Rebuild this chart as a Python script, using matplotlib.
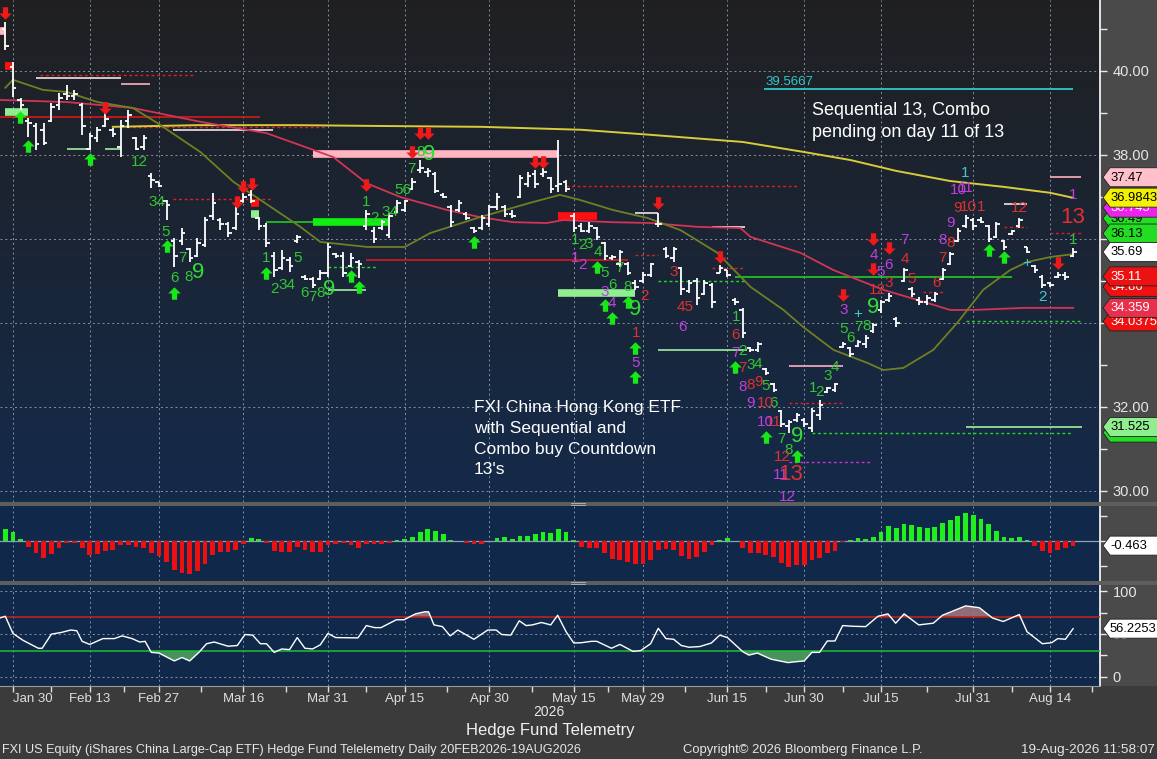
import numpy as np
import matplotlib
matplotlib.use("Agg")
import matplotlib.pyplot as plt
from matplotlib.path import Path
from matplotlib.patches import Polygon, Rectangle

FONT = ['Liberation Sans', 'DejaVu Sans']
plt.rcParams['font.family'] = FONT

# ---------------- data ----------------
start_day = '2026-01-29'
holidays = ['2026-02-16', '2026-04-03', '2026-05-25', '2026-06-19', '2026-07-03']

opens = [41.00, 40.10, 39.30, 38.80, 38.70, 38.60, 38.82, 39.20, 39.45, 39.40,
         39.20, 38.15, 38.40, 38.70, 38.60, 38.20, 38.80, 38.40, 38.20, 37.50,
         37.35, 36.90, 35.95, 35.95, 35.75, 35.60, 35.85, 36.55, 36.45, 36.35,
         36.25, 36.90, 37.05, 36.50, 36.30, 35.60, 35.30, 35.50, 35.95, 35.10,
         35.05, 35.05, 35.20, 35.65, 35.60, 35.35, 35.45, 36.30, 36.20, 36.25,
         36.10, 36.65, 36.70, 37.20, 37.65, 37.60, 37.55, 37.05, 36.75, 36.70,
         36.60, 36.25, 36.25, 36.35, 36.75, 36.75, 36.60, 37.00, 37.30, 37.55,
         37.55, 37.45, 37.25, 37.35, 36.55, 36.30, 36.20, 36.25, 35.90, 35.55,
         35.40, 35.40, 34.95, 35.00, 35.15, 36.35, 35.75, 35.55, 35.30, 34.75,
         35.00, 34.70, 34.90, 35.20, 35.25, 34.55, 34.30, 33.40, 33.35, 32.90,
         32.55, 31.90, 31.55, 31.70, 31.70, 31.50, 31.80, 32.35, 32.40, 33.42,
         33.40, 33.45, 33.50, 33.80, 34.30, 34.55, 34.10, 35.00, 34.80, 34.55,
         34.50, 34.55, 35.05, 35.40, 35.95, 36.30, 36.45, 36.45, 36.30, 36.05,
         35.95, 36.12, 36.30, 35.80, 35.35, 35.10, 34.95, 35.10, 35.15, 35.60]
closes = [40.60, 39.60, 39.20, 38.75, 38.25, 38.28, 39.15, 39.35, 39.40, 39.45,
          38.70, 38.45, 38.60, 38.85, 38.50, 38.70, 38.95, 38.15, 38.40, 37.40,
          37.26, 36.80, 35.60, 36.15, 35.55, 35.90, 36.45, 36.85, 36.35, 36.15,
          36.60, 37.00, 36.90, 36.30, 35.90, 35.25, 35.55, 35.35, 36.05, 35.05,
          34.90, 35.20, 35.80, 35.60, 35.20, 35.55, 35.40, 36.60, 36.00, 36.40,
          36.55, 36.85, 36.90, 37.35, 37.70, 37.62, 37.15, 37.00, 36.40, 36.85,
          36.50, 36.20, 36.50, 36.75, 37.00, 36.60, 36.55, 37.45, 37.50, 37.30,
          37.60, 37.20, 37.30, 37.20, 36.25, 36.20, 36.30, 36.05, 35.60, 35.58,
          35.70, 35.20, 34.85, 35.15, 35.40, 36.35, 35.60, 35.75, 34.80, 34.95,
          34.60, 34.95, 34.50, 35.30, 35.15, 34.50, 33.75, 33.35, 33.50, 32.80,
          32.40, 31.60, 31.65, 31.80, 31.60, 31.90, 32.05, 32.45, 32.55, 33.50,
          33.25, 33.55, 33.65, 33.95, 34.50, 34.65, 34.00, 35.25, 34.70, 34.50,
          34.60, 34.70, 35.25, 35.65, 36.20, 36.50, 36.30, 36.40, 36.00, 36.35,
          35.80, 36.18, 36.45, 35.70, 35.25, 34.90, 34.90, 35.15, 35.10, 35.69]
highs = [41.17, 40.21, 39.36, 38.88, 38.76, 38.76, 39.24, 39.48, 39.67, 39.55,
         39.24, 38.52, 38.67, 39.00, 38.64, 38.83, 39.07, 38.43, 38.48, 37.57,
         37.36, 36.93, 36.02, 36.26, 35.79, 36.02, 36.52, 37.10, 36.50, 36.40,
         36.76, 37.10, 37.17, 36.52, 36.38, 35.69, 35.74, 35.57, 36.10, 35.14,
         35.10, 35.26, 35.90, 35.67, 35.69, 35.67, 35.50, 36.69, 36.29, 36.45,
         36.62, 36.93, 36.93, 37.45, 37.88, 37.69, 37.60, 37.10, 36.81, 36.93,
         36.64, 36.29, 36.57, 36.81, 37.10, 36.81, 36.69, 37.52, 37.60, 37.64,
         37.69, 37.48, 38.36, 37.40, 36.62, 36.38, 36.40, 36.29, 35.93, 35.62,
         35.74, 35.45, 35.02, 35.21, 35.43, 36.62, 35.81, 35.81, 35.33, 35.02,
         35.07, 35.02, 34.95, 35.38, 35.26, 34.60, 34.36, 33.43, 33.55, 32.93,
         32.57, 31.93, 31.69, 31.86, 31.74, 31.98, 32.17, 32.48, 32.57, 33.55,
         33.43, 33.60, 33.71, 34.00, 34.55, 34.71, 34.14, 35.31, 34.86, 34.62,
         34.67, 34.74, 35.31, 35.69, 36.26, 36.57, 36.50, 36.52, 36.33, 36.40,
         35.98, 36.21, 36.50, 35.81, 35.38, 35.14, 34.98, 35.21, 35.21, 35.78]
lows = [40.50, 39.38, 39.07, 38.43, 38.12, 38.24, 38.79, 39.07, 39.31, 39.31,
        38.48, 38.12, 38.31, 38.67, 38.43, 37.95, 38.64, 38.12, 38.12, 37.21,
        37.24, 36.45, 35.33, 35.86, 35.45, 35.57, 35.81, 36.45, 36.21, 36.05,
        36.21, 36.86, 36.86, 36.21, 35.81, 35.10, 35.26, 35.21, 35.90, 35.02,
        34.83, 35.02, 35.10, 35.55, 35.10, 35.33, 35.07, 36.21, 35.90, 36.21,
        36.02, 36.62, 36.64, 37.17, 37.57, 37.48, 37.10, 36.98, 36.29, 36.64,
        36.45, 36.14, 36.21, 36.29, 36.69, 36.52, 36.50, 36.98, 37.24, 37.21,
        37.48, 37.10, 37.12, 37.12, 36.17, 36.17, 36.14, 35.98, 35.50, 35.50,
        35.33, 35.14, 34.79, 34.95, 35.10, 36.29, 35.55, 35.45, 34.67, 34.71,
        34.43, 34.67, 34.36, 35.19, 35.10, 34.43, 33.64, 33.31, 33.31, 32.76,
        32.36, 31.52, 31.38, 31.64, 31.52, 31.40, 31.69, 32.33, 32.36, 33.40,
        33.19, 33.43, 33.40, 33.76, 34.24, 34.50, 33.90, 34.98, 34.62, 34.43,
        34.43, 34.50, 35.02, 35.38, 35.93, 36.26, 36.21, 36.38, 35.93, 36.02,
        35.74, 36.10, 36.26, 35.67, 35.19, 34.83, 34.86, 35.07, 35.02, 35.57]

# moving averages (sampled vertices)
ma_long_x = [14, 25, 38, 49, 62, 75, 84, 96, 104, 110, 116, 123, 130, 136, 139]
ma_long_v = [38.67, 38.71, 38.71, 38.69, 38.67, 38.60, 38.48, 38.31, 38.07, 37.88,
             37.62, 37.38, 37.24, 37.10, 36.98]
ma_mid_x = [-0.7, 8, 16.6, 25.4, 34, 42.7, 47, 51.4, 57.5, 61.8, 66.1, 70.5, 72.6,
            79, 84, 90, 95.7, 97, 103.5, 107.8, 114.3, 118.7, 123, 126, 132.7, 139]
ma_mid_v = [39.31, 39.26, 39.12, 38.79, 38.52, 37.95, 37.33, 37.00, 36.69, 36.52,
            36.40, 36.38, 36.45, 36.40, 36.38, 36.29, 36.26, 36.05, 35.67, 35.26,
            34.79, 34.55, 34.31, 34.31, 34.36, 34.36]
ma_short_x = [0, 1, 4.9, 8, 12, 16.6, 19.8, 25.4, 29.7, 33.2, 38.4, 41, 47.1, 52,
              55.3, 61.8, 68.3, 72.2, 74.8, 79.1, 83.6, 87.9, 92.7, 97, 101.3,
              103.9, 107.8, 112.2, 114.3, 116.9, 120.8, 123.9, 127.3, 130.8, 133,
              136, 139]
ma_short_v = [39.60, 39.79, 39.55, 39.50, 39.26, 39.12, 38.76, 38.07, 37.36, 36.93,
              36.29, 35.93, 35.81, 35.81, 36.14, 36.52, 36.86, 37.05, 36.93, 36.69,
              36.50, 36.21, 35.67, 34.86, 34.31, 33.90, 33.36, 33.05, 32.88, 32.93,
              33.36, 34.00, 34.79, 35.26, 35.45, 35.57, 35.64]

# histogram oscillator
hist = [1.17, 0.93, 0.17, -0.6, -1.17, -1.67, -1.33, -0.73, -0.23, -0.17,
        -0.73, -1.4, -1.33, -1.0, -0.93, -0.4, -0.4, -0.6, -0.73, -1.17,
        -1.5, -2.07, -2.93, -3.17, -3.27, -3.0, -2.27, -1.4, -1.07, -1.07,
        -0.9, -0.33, 0.33, 0.23, -0.17, -1.0, -1.07, -1.07, -0.6, -0.9,
        -1.1, -1.1, -0.4, -0.27, -0.17, -0.4, -0.67, -0.33, -0.27, -0.33,
        -0.17, 0.1, 0.17, 0.4, 0.9, 1.17, 1.0, 0.73, 0.1, 0.05,
        -0.17, -0.33, -0.33, 0.02, 0.27, 0.4, 0.2, 0.5, 0.5, 0.67,
        0.9, 0.83, 1.17, 0.93, 0.13, -0.6, -0.67, -0.73, -1.17, -1.83,
        -1.93, -2.1, -2.33, -2.33, -1.9, -0.9, -0.77, -0.9, -1.5, -1.77,
        -1.6, -1.1, -0.4, 0.1, 0.33, 0.02, -0.67, -1.17, -1.17, -1.4,
        -1.57, -2.17, -2.6, -2.4, -2.4, -1.9, -1.67, -1.17, -1.0, -0.1,
        0.1, 0.33, 0.17, 0.4, 0.93, 1.5, 1.33, 1.73, 1.6, 1.43,
        1.33, 1.4, 1.77, 2.1, 2.5, 2.83, 2.6, 2.23, 1.67, 1.0,
        0.4, 0.27, 0.4, 0.1, -0.5, -1.0, -1.17, -0.9, -0.73, -0.463]

# RSI (vertices)
rsi_x = [-0.7, 0, 1, 2.3, 4.3, 4.8, 6, 7.3, 8.5, 9.3, 10, 11, 12.7, 14.2, 15.2, 16.5,
         17.5, 18.2, 19, 20, 22, 23, 24, 25.2, 26.2, 27.2, 29, 30.2, 31.2, 32.2, 33.2,
         34, 35, 36, 37, 38, 39, 40, 41, 42, 43, 45.9, 47, 48.1, 48.9, 50.9, 51.9,
         53.4, 54.6, 55.1, 55.8, 56.9, 57.9, 58.9, 61, 62.8, 63.9, 64.6, 65.8, 66.9,
         67.8, 68.6, 69.8, 71, 71.9, 73, 74, 75, 76.3, 77, 78.9, 80, 81.7, 82.7, 84,
         85, 86, 87, 88, 89, 90.4, 91.9, 93, 94, 96, 96.8, 97.9, 99.7, 101.9, 102.6,
         104, 105, 106, 107, 108, 109, 110.3, 112, 113.6, 114.9, 115.9, 117, 118.9,
         120.8, 122, 125, 126.8, 128.5, 129.9, 132, 133, 135, 136.2, 137, 138, 139]
rsi_v = [68.7, 70.7, 50.6, 42.6, 33.3, 33.3, 49.8, 51.8, 54.6, 53.8, 41.4, 37.8, 44.6,
         44.6, 47.8, 44.6, 40.6, 41.4, 28.5, 27.7, 18.5, 22.5, 18.5, 28.5, 38.6, 40.6,
         35.7, 36.5, 49.4, 48.6, 38.6, 38.6, 28.5, 32.5, 31.7, 45.8, 33.3, 32.5, 37.3,
         50.6, 45.8, 45.4, 59.8, 57.4, 57.4, 66.6, 66.6, 73.5, 75.9, 75.9, 60.6, 58.6,
         47.8, 54.6, 43.8, 54.6, 54.6, 49.4, 48.6, 65.4, 59.8, 60.6, 63.4, 60.6, 71.9,
         52.6, 39.4, 39.8, 41.4, 41.4, 33.3, 37.8, 29.7, 30.5, 38.6, 56.6, 44.6, 43.8,
         36.5, 34.5, 35.3, 39.4, 48.6, 45.8, 29.3, 25.3, 27.7, 20.5, 16.5, 17.3, 18.5,
         28.5, 28.5, 41.8, 41.8, 59.8, 59.0, 58.6, 70.7, 73.5, 62.6, 73.5, 60.6, 62.6,
         71.9, 82.8, 80.7, 68.7, 64.6, 72.7, 52.6, 38.6, 39.8, 44.6, 43.8, 56.2253]

tick_dates = ['2026-01-30', '2026-02-13', '2026-02-27', '2026-03-16', '2026-03-31',
              '2026-04-15', '2026-04-30', '2026-05-15', '2026-05-29', '2026-06-15',
              '2026-06-30', '2026-07-15', '2026-07-31', '2026-08-14']
tick_labels = ['Jan 30', 'Feb 13', 'Feb 27', 'Mar 16', 'Mar 31', 'Apr 15', 'Apr 30',
               'May 15', 'May 29', 'Jun 15', 'Jun 30', 'Jul 15', 'Jul 31', 'Aug 14']

# horizontal study levels: (start bar, end bar, price, kind)
levels = [
    (4.5, 24.7, 39.90, 'red_dot'), (4.0, 15.0, 39.83, 'white'), (15.0, 18.8, 39.69, 'pink'),
    (-0.7, 33.2, 38.90, 'red'), (15.9, 41.9, 38.67, 'red_dot'), (21.8, 34.9, 38.60, 'white'),
    (40.0, 72.0, 38.02, 'pink_thick'), (73.0, 103.1, 37.26, 'red_dot'),
    (72.0, 77.0, 36.55, 'red_thick'), (82.0, 85.0, 36.62, 'white'), (92.0, 96.3, 36.29, 'white'),
    (21.8, 34.7, 36.95, 'red_dot'), (34.0, 40.0, 36.40, 'green'), (40.0, 50.0, 36.40, 'green_thick'),
    (47.0, 81.0, 35.50, 'red'), (72.0, 82.0, 34.71, 'lgreen_thick'), (85.0, 96.6, 35.00, 'green_dot'),
    (95.0, 131.0, 35.10, 'green'), (85.0, 96.6, 33.36, 'lgreen'), (102.0, 109.0, 32.98, 'pink'),
    (102.0, 109.0, 32.10, 'red_dot'), (105.0, 139.0, 31.38, 'green_dot'),
    (125.0, 140.2, 31.525, 'lgreen'), (102.0, 112.8, 30.69, 'mag_dot'),
    (98.7, 139.0, 39.5667, 'cyan'), (130.0, 133.0, 36.29, 'red_dot'), (130.0, 133.0, 36.83, 'white'),
    (136.0, 140.0, 37.47, 'pink'), (136.0, 140.0, 36.14, 'red_dot'),
    (125.0, 140.0, 34.0375, 'green_dot'), (92.0, 96.0, 35.31, 'red_dot'),
    (82.0, 85.0, 35.62, 'red_dot'), (119.5, 122.0, 34.74, 'red_dot'),
    (0.0, 3.0, 39.02, 'lgreen_thick'), (8.0, 11.0, 38.14, 'lgreen'), (13.0, 15.0, 38.14, 'lgreen'),
    (42.0, 47.0, 34.79, 'lgreen'), (42.0, 48.4, 35.33, 'green_dot'),
    (0.0, 1.0, 40.12, 'red_thick'), (32.0, 33.0, 36.86, 'red_thick'), (32.0, 33.0, 36.60, 'lgreen_thick'),
    (-0.7, 0.0, 40.95, 'pink_thick'),
]

# sequential / combo counts: (bar, price, text, kind)
counts = [
    (17.5, 37.83, '12', 'g'), (19.8, 36.88, '34', 'g'), (20.9, 36.17, '5', 'g'), (23.1, 35.55, '7', 'g'),
    (22, 35.07, '6', 'g'), (23.9, 35.10, '8', 'g'), (25.1, 35.19, '9', 'G'),
    (33.9, 35.55, '1', 'g'), (35.0, 34.81, '2', 'g'), (36.7, 34.90, '34', 'g'), (38, 35.55, '5', 'g'),
    (39, 34.71, '6', 'g'), (40, 34.62, '7', 'g'), (41, 34.71, '8', 'g'), (42.1, 34.79, '9', 'G'),
    (47, 36.88, '1', 'g'), (48.1, 36.50, '2', 'g'), (50.1, 36.64, '34', 'g'), (51.7, 37.17, '56', 'g'),
    (52.9, 37.67, '7', 'g'), (54, 38.07, '8', 'g'), (55.2, 38.0, '9', 'G'),
    (74.2, 35.98, '1', 'g'), (75.1, 35.86, '2', 'g'), (76, 35.88, '3', 'g'), (77.2, 35.69, '4', 'g'),
    (78, 35.19, '5', 'g'), (80, 35.31, '7', 'g'), (79, 34.90, '6', 'g'), (81, 34.86, '8', 'g'),
    (82, 34.31, '9', 'G'),
    (95.1, 34.14, '1', 'g'), (96, 33.33, '2', 'g'), (97, 33.0, '3', 'g'), (98, 33.02, '4', 'g'),
    (99, 32.5, '5', 'g'), (100, 32.10, '6', 'g'), (101, 31.24, '7', 'g'), (102, 30.98, '8', 'g'),
    (103.1, 31.29, '9', 'G'),
    (105.2, 32.45, '1', 'g'), (106, 32.36, '2', 'g'), (107, 32.74, '3', 'g'), (108, 32.95, '4', 'g'),
    (109.1, 33.86, '5', 'g'), (110, 33.64, '6', 'g'), (111, 33.90, '7', 'g'), (112.1, 33.93, '8', 'g'),
    (113, 34.38, '9', 'G'), (139, 35.98, '1', 'g'),
    (82.1, 33.76, '1', 'r'), (83.2, 34.64, '2', 'r'), (87, 35.21, '3', 'r'), (88.5, 34.38, '45', 'r'),
    (95.1, 33.71, '6', 'r'), (96, 32.93, '7', 'r'), (97, 32.52, '8', 'r'), (98, 32.60, '9', 'r'),
    (98.9, 32.10, '10', 'r'), (100, 31.64, '11', 'r'), (101.1, 30.81, '12', 'r'), (102.3, 30.40, '13', 'R'),
    (113.5, 34.79, '12', 'r'), (115, 34.95, '3', 'r'), (117.1, 35.52, '4', 'r'), (118, 35.05, '5', 'r'),
    (121.2, 34.95, '6', 'r'), (122, 35.55, '7', 'r'), (123.1, 35.90, '8', 'r'), (124, 36.74, '9', 'r'),
    (125.4, 36.76, '10', 'r'), (127, 36.76, '1', 'r'), (132, 36.74, '12', 'r'), (139, 36.50, '13', 'R'),
    (74.2, 35.55, '1', 'm'), (75.1, 35.38, '2', 'm'), (78, 34.74, '3', 'm'), (79, 34.48, '4', 'm'),
    (82.1, 33.05, '5', 'm'), (88.1, 33.90, '6', 'm'), (95.1, 33.29, '7', 'm'), (96, 32.48, '8', 'm'),
    (97, 32.10, '9', 'm'), (98.9, 31.64, '10', 'm'), (100.9, 30.38, '11', 'm'), (101.8, 29.86, '12', 'm'),
    (109.1, 34.31, '3', 'm'), (113, 35.62, '4', 'm'), (114, 35.21, '5', 'm'), (115, 35.38, '6', 'm'),
    (117.1, 35.98, '7', 'm'), (122, 35.98, '8', 'm'), (123, 36.38, '9', 'm'), (124, 37.17, '10', 'm'),
    (125, 37.21, '11', 'm'), (139, 37.05, '1', 'm'),
    (125, 37.57, '1', 'c'), (135, 34.62, '2', 'c'), (133, 35.43, '+', 'c'), (111, 34.21, '+', 'c'),
]

sell_arrow_x = [0, 13, 30.2, 31, 32.1, 47, 53, 54, 55, 69, 70, 85, 93, 109, 113, 113, 115, 137]
sell_arrow_y = [41.38, 39.12, 36.88, 37.24, 37.31, 37.29, 38.07, 38.52, 38.52, 37.83, 37.83,
                36.86, 35.57, 34.67, 36.0, 35.29, 35.79, 35.43]
buy_arrow_x = [1.9, 3, 11, 21, 22, 34, 45, 46, 61, 77, 78, 79, 81, 82, 82, 95, 99, 103, 128, 130]
buy_arrow_y = [38.90, 38.21, 37.90, 35.83, 34.71, 35.19, 35.12, 34.86, 35.93, 35.33, 34.43,
               34.12, 34.50, 33.40, 32.71, 32.95, 31.29, 30.83, 35.74, 35.57]

# right axis value tags: (value, text, face, text colour)
main_tags = [
    (36.49, '36.49', '#22dd22', 'black'), (36.745, '36.745', '#ee22ee', 'white'),
    (36.9843, '36.9843', '#f2f200', 'black'), (37.47, '37.47', '#ffc0cb', 'black'),
    (36.13, '36.13', '#22dd22', 'black'), (35.69, '35.69', 'white', 'black'),
    (34.86, '34.86', '#ee1111', 'white'), (35.11, '35.11', '#ee1111', 'white'),
    (34.0375, '34.0375', '#ee1111', 'white'), (34.359, '34.359', '#e8304c', 'white'),
    (31.39, '31.39', '#22dd22', 'black'), (31.525, '31.525', '#90ee90', 'black'),
]

# ---------------- styles ----------------
LEVEL_STYLE = {
    'red_dot': ('#e02020', (0, (2, 2)), 1.0), 'red': ('#d81818', '-', 1.2),
    'white': ('#f0e4e8', '-', 1.2), 'pink': ('#ffb0c0', '-', 1.2),
    'pink_thick': ('#ffb6c1', '-', 5.5), 'red_thick': ('#ff1010', '-', 5.5),
    'green_thick': ('#11ee11', '-', 5.5), 'lgreen_thick': ('#90ee90', '-', 5.5),
    'green': ('#22cc22', '-', 1.2), 'green_dot': ('#22dd22', (0, (2, 2)), 1.0),
    'lgreen': ('#a0f0a0', '-', 1.2), 'mag_dot': ('#d030d0', (0, (2, 2)), 1.0),
    'cyan': ('#30c8c8', '-', 1.3),
}
COUNT_STYLE = {'g': ('#33c633', 11), 'G': ('#33dd33', 16), 'r': ('#e03030', 11),
               'R': ('#e03030', 16), 'm': ('#c040dc', 11), 'c': ('#40c8d0', 11)}

W, H = 1157, 759
def fx(px):
    return px / W
def fy(py):
    return 1 - py / H

n = len(closes)
idx = np.arange(n)
tick_idx = np.busday_count(start_day, tick_dates, holidays=holidays)
minor_idx = (tick_idx[:-1] + tick_idx[1:]) / 2.0
minor_idx = np.append(minor_idx, tick_idx[-1] + 5.5)

XL = (-0.69, 142.5)
GRID = dict(color='#8592a6', lw=0.7, ls=(0, (2, 3)))

fig = plt.figure(figsize=(W / 100, H / 100), dpi=100, facecolor='#3b3b3b')
fig.add_artist(Rectangle((fx(1100), fy(686)), 1 - fx(1100), 686 / H, transform=fig.transFigure,
                         facecolor='#4a4a4a', edgecolor='none', zorder=-5))

ax = fig.add_axes([0, fy(502), fx(1100), 502 / H])
axh = fig.add_axes([0, fy(581), fx(1100), 76 / H])
axr = fig.add_axes([0, fy(686), fx(1100), 102 / H])

# gradient background for price panel
grad = np.linspace(0, 1, 256)[:, None]
top = np.array([0.125, 0.125, 0.13])
bot = np.array([0.08, 0.165, 0.29])
img = top[None, None, :] * (1 - grad[:, :, None]) + bot[None, None, :] * grad[:, :, None]
ax.imshow(img, extent=[0, 1, 0, 1], transform=ax.transAxes, aspect='auto', zorder=-10)
for a in (axh, axr):
    a.set_facecolor('#10294a')

for a in (ax, axh, axr):
    a.set_xlim(*XL)
    for s in ('top', 'left', 'bottom'):
        a.spines[s].set_visible(False)
    a.spines['right'].set_color('white')
    a.spines['right'].set_linewidth(1.2)
    a.yaxis.tick_right()
    a.tick_params(axis='y', which='both', colors='#e6e6e6', length=5, width=1, pad=4,
                  labelsize=10.5, direction='out')
    for t in tick_idx:
        a.axvline(t, zorder=0.5, **GRID)

# ---- price panel ----
ax.set_ylim(41.69 - 502 / 42, 41.69)
for g in range(30, 42, 2):
    ax.axhline(g, zorder=0.5, **GRID)
ax.set_yticks(range(30, 42))
ax.set_yticklabels(['30.00', '', '32.00', '', '', '', '', '', '38.00', '', '40.00', ''])
ax.tick_params(axis='x', length=0, labelbottom=False)

for s0, s1, p, k in levels:
    c, ls, lw = LEVEL_STYLE[k]
    ax.plot([s0, s1], [p, p], color=c, ls=ls, lw=lw, solid_capstyle='butt', zorder=2)

ax.plot(ma_long_x, ma_long_v, color='#d8cc3a', lw=1.4, zorder=3)
ax.plot(ma_mid_x, ma_mid_v, color='#d23456', lw=1.3, zorder=3)
ax.plot(ma_short_x, ma_short_v, color='#6f7f22', lw=1.3, zorder=3)

ax.vlines(idx, lows, highs, color='white', lw=1.3, zorder=4)
ax.hlines(opens, idx - 0.45, idx, color='white', lw=1.3, zorder=4)
ax.hlines(closes, idx, idx + 0.45, color='white', lw=1.3, zorder=4)

up = Path([(-1, 0), (0, 1), (1, 0), (0.42, 0), (0.42, -1), (-0.42, -1), (-0.42, 0), (-1, 0)],
          [Path.MOVETO] + [Path.LINETO] * 6 + [Path.CLOSEPOLY])
down = Path([(x, -y) for x, y in up.vertices], up.codes)
ax.plot(sell_arrow_x, sell_arrow_y, ls='none', marker=down, ms=9, color='#ee1a1a', mec='none', zorder=5)
ax.plot(buy_arrow_x, buy_arrow_y, ls='none', marker=up, ms=9, color='#18e818', mec='none', zorder=5)

for x, p, s, k in counts:
    c, fs = COUNT_STYLE[k]
    ax.text(x, p, s, color=c, fontsize=fs, ha='center', va='center', zorder=6, clip_on=True)

ax.text(99.0, 39.74, '39.5667', color='#30c8c8', fontsize=9.5, ha='left', va='center', zorder=6)
ax.text(105.0, 39.27, 'Sequential 13, Combo\npending on day 11 of 13', color='white',
        fontsize=13, ha='left', va='top', linespacing=1.45, zorder=7)
ax.text(61.0, 32.16, "FXI China Hong Kong ETF\nwith Sequential and\nCombo buy Countdown\n13's",
        color='white', fontsize=12.5, ha='left', va='top', linespacing=1.47, zorder=7)

# ---- histogram panel ----
axh.set_ylim(-4.0, 3.6)
axh.axhline(0, color='#8fa0b4', lw=0.9, zorder=1)
hv = np.array(hist)
axh.bar(idx, hv, width=0.62, color=np.where(hv >= 0, '#1ef01e', '#ee1010'), zorder=3)
axh.set_yticks([-2.5, 0, 2.5])
axh.set_yticklabels([])
axh.tick_params(axis='x', length=0, labelbottom=False)

# ---- RSI panel ----
axr.set_ylim(-10.8, 108.4)
for g in (0, 50, 100):
    axr.axhline(g, zorder=0.5, **GRID)
rx = np.array(rsi_x)
rv = np.array(rsi_v)
axr.fill_between(rx, rv, 70, where=rv > 70, interpolate=True, color='#a87a80', alpha=0.85, lw=0, zorder=2)
axr.fill_between(rx, rv, 30, where=rv < 30, interpolate=True, color='#4fa060', alpha=0.9, lw=0, zorder=2)
axr.axhline(70, color='#cc2020', lw=1.1, zorder=3)
axr.axhline(30, color='#20c030', lw=1.1, zorder=3)
axr.plot(rx, rv, color='white', lw=1.0, zorder=4)
axr.set_yticks([0, 25, 50, 75, 100])
axr.set_yticklabels(['0', '', '50', '', '100'])
axr.set_xticks(tick_idx)
axr.set_xticklabels(tick_labels)
axr.set_xticks(minor_idx, minor=True)
axr.spines['bottom'].set_visible(True)
axr.spines['bottom'].set_color('#9a9a9a')
axr.tick_params(axis='x', which='both', colors='#dedede', length=4, width=1, labelsize=9.5, pad=1)
axr.get_xticklabels()[0].set_horizontalalignment('left')
axr.get_xticklabels()[0].set_x(tick_idx[0] - 0.8)

# ---- panel separators ----
for y0 in (502, 581):
    fig.add_artist(Rectangle((0, fy(y0 + 3.5)), 1, 3.5 / H, transform=fig.transFigure,
                             facecolor='#5e5e5e', edgecolor='none', zorder=8))
    for dy in (1.0, 2.5):
        fig.add_artist(plt.Line2D([fx(571), fx(585)], [fy(y0 + dy)] * 2, transform=fig.transFigure,
                                  color='#b8b8b8', lw=0.6, zorder=9))

# ---- value tags ----
def tag(a, value, text, fc, tc, z):
    ypx = a.transData.transform((0, value))[1]
    yc = ypx / fig.bbox.height
    h = 9.5 / H
    x0, x1, x2 = fx(1103), fx(1110), 1.01
    fig.add_artist(Polygon([(x0, yc), (x1, yc + h), (x2, yc + h), (x2, yc - h), (x1, yc - h)],
                           closed=True, transform=fig.transFigure, facecolor=fc,
                           edgecolor='#202020', lw=0.6, zorder=z))
    fig.text(fx(1110), yc - 0.5 / H, text, color=tc, fontsize=9.4, ha='left', va='center', zorder=z + 0.5)

for k, (v, s, fc, tc) in enumerate(main_tags):
    tag(ax, v, s, fc, tc, 10 + k)
tag(axh, -0.463, '-0.463', 'white', 'black', 30)
tag(axr, 56.2253, '56.2253', 'white', 'black', 31)

# ---- footer ----
fig.text(fx(549), fy(712), '2026', color='#e6e6e6', fontsize=10, ha='center', va='center')
fig.text(fx(550), fy(731), 'Hedge Fund Telemetry', color='#f0f0f0', fontsize=12,
         ha='center', va='center')
fig.text(fx(2), fy(750), 'FXI US Equity (iShares China Large-Cap ETF) Hedge Fund Telelemetry Daily 20FEB2026-19AUG2026',
         color='#e6e6e6', fontsize=9.1, ha='left', va='center')
fig.text(fx(803), fy(750), 'Copyright\u00a9 2026 Bloomberg Finance L.P.', color='#e6e6e6',
         fontsize=9.4, ha='center', va='center')
fig.text(fx(1155), fy(750), '19-Aug-2026 11:58:07', color='#e6e6e6', fontsize=9.7,
         ha='right', va='center')

fig.savefig('out.png', dpi=100, facecolor=fig.get_facecolor())
